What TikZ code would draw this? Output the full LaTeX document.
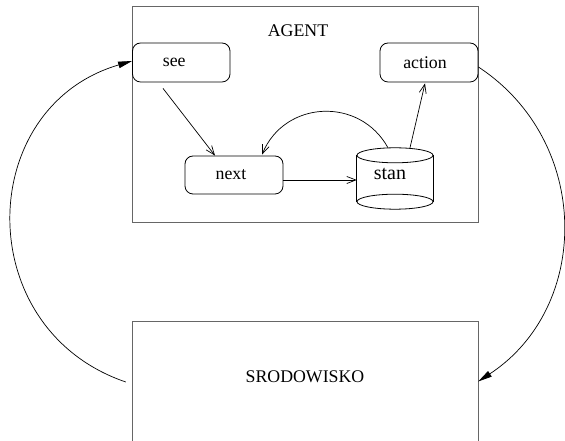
\documentclass[tikz,border=0pt]{standalone}
\usepackage{fontspec}
\setmainfont{Liberation Serif}
\usetikzlibrary{arrows.meta}

\begin{document}
\begin{tikzpicture}[x=1pt,y=1pt,
  outline/.style={draw=black!60, line width=0.9pt},
  area/.style={inner sep=0pt, minimum width=345.5pt},
  title/.style={inner sep=0pt, font=\fontsize{17.8}{20}\selectfont},
  proc/.style={draw, line width=0.8pt, rounded corners=8pt, inner sep=0pt,
    minimum height=39pt, font=\fontsize{17.8}{20}\selectfont},
  % pad after the text so that it sits a little left of the box centre
  lefttext/.style={execute at end node={\hspace*{#1}}},
  store/.style={inner sep=0pt, minimum width=76pt, minimum height=61pt},
  storeline/.style={line width=0.8pt},
  innerarrow/.style={line width=0.7pt, -{Straight Barb[length=9pt,width=7pt]}},
  outerarrow/.style={line width=0.7pt, -{Triangle[length=14pt,width=6.5pt]}}
]
\useasboundingbox (0,0) rectangle (565,441);

% the agent and its surroundings
\node[area, outline, minimum height=216pt] (agent) at (305.25,326.5) {};
\node[title] at (298,410) {AGENT};
\node[area, minimum height=119pt] (env) at (305.25,59.5) {};
\draw[outline] (env.south west) |- (env.north east) -- (env.south east);
\node[title] at (305,64) {SRODOWISKO};

% functions of the agent
\node[proc, lefttext=14pt, minimum width=97.5pt] (see) at (181.25,378.5) {see};
\node[proc, lefttext=8pt, minimum width=98pt] (action) at (429,378.5) {action};
\node[proc, lefttext=6pt, minimum width=98pt, minimum height=38pt] (next) at (234,266) {next};

% internal state store
\node[store] (stan) at (395,262.5) {};
\draw[storeline] ([yshift=-7.5pt]stan.north) ellipse [x radius=38, y radius=7.5];
\draw[storeline] ([yshift=7.5pt]stan.south) ellipse [x radius=38, y radius=7.5];
\draw[storeline] ([yshift=-7.5pt]stan.north west) -- ([yshift=7.5pt]stan.south west);
\draw[storeline] ([yshift=-7.5pt]stan.north east) -- ([yshift=7.5pt]stan.south east);
\node[inner sep=0pt, font=\fontsize{20}{22}\selectfont] at ([shift={(-5,5)}]stan.center) {stan};

% connectors inside the agent
\draw[innerarrow] ([shift={(-18.25,-6)}]see.south) -- ([xshift=-19pt]next.north);
\draw[innerarrow] ([shift={(0,-5)}]next.east) -- ([shift={(0,-1.5)}]stan.west);
\draw[innerarrow] ([xshift=-7pt]stan.north)
  .. controls +(118.8:58.8) and +(67.6:58.8) .. ([shift={(28,1)}]next.north);
\draw[innerarrow] ([xshift=15pt]stan.north) -- ([shift={(-4,-1)}]action.south);

% interaction with the environment
\draw[outerarrow] ([shift={(0,-4.5)}]action.east)
  .. controls +(-33.3:135.6) and +(33.3:135.6) .. (env.east);
\draw[outerarrow] ([shift={(-6.5,-0.5)}]env.west)
  .. controls +(161.2:164.3) and +(196.3:164.3) .. ([shift={(0,1.5)}]see.west);
\end{tikzpicture}
\end{document}
